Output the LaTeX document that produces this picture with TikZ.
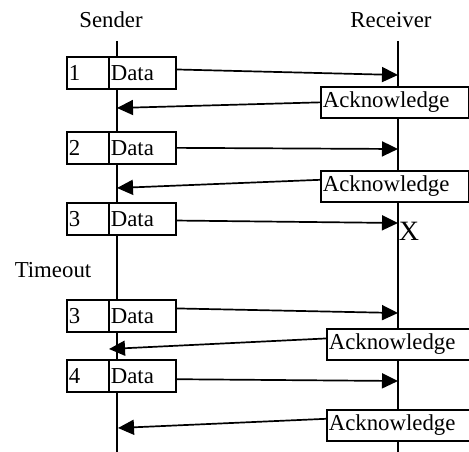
\documentclass[tikz,border=0pt]{standalone}
\usepackage{fontspec}
\setmainfont{Liberation Serif}
\usetikzlibrary{arrows.meta,calc}
\begin{document}
\begin{tikzpicture}[x=1pt, y=-1pt, line width=1.7pt,
  font=\fontsize{22.8}{27}\selectfont,
  cell/.style={draw, fill=white, anchor=north west, minimum height=32pt,
    inner sep=0pt, inner xsep=2pt, align=left},
  numcell/.style={cell, text width=38pt},
  datacell/.style={cell, text width=63pt},
  ackbox/.style={draw, fill=white, anchor=north west, minimum height=31pt,
    inner sep=0pt, inner xsep=2pt, text width=144pt, align=left},
  label/.style={inner sep=0pt},
  msg/.style={-{Triangle[length=16pt,width=15pt]}, line width=1.7pt}
]
\clip (0,0) rectangle (469,452);

% column headings
\node[label] (sender)   at (111,20) {Sender};
\node[label] (receiver) at (391,20) {Receiver};

% lifelines
\coordinate (stop) at (117,41);  \coordinate (sbot) at (117,456);
\coordinate (rtop) at (398,41);  \coordinate (rbot) at (398,456);
\draw (stop) -- (sbot);
\draw (rtop) -- (rbot);

% frames sent
\node[numcell]  (n1) at (66,56)  {1};
\node[datacell] (d1) at (108,56) {Data};
\node[numcell]  (n2) at (66,131) {2};
\node[datacell] (d2) at (108,131) {Data};
\node[numcell]  (n3) at (66,202) {3};
\node[datacell] (d3) at (108,202) {Data};
\node[numcell]  (n4) at (66,299) {3};
\node[datacell] (d4) at (108,299) {Data};
\node[numcell]  (n5) at (66,359) {4};
\node[datacell] (d5) at (108,359) {Data};

% acknowledgements
\node[ackbox] (a1) at (320,86)  {Acknowledge};
\node[ackbox] (a2) at (320,170) {Acknowledge};
\node[ackbox] (a3) at (326,328) {Acknowledge};
\node[ackbox] (a4) at (326,409) {Acknowledge};

% arrival points on the lifelines
\coordinate (r1) at (398,75);
\coordinate (r2) at (398,149);
\coordinate (r3) at (398,223);
\coordinate (r4) at (398,313);
\coordinate (r5) at (398,381);
\coordinate (s1) at (117,108);
\coordinate (s2) at (117,188);
\coordinate (s3) at (109,349);
\coordinate (s4) at (118,428);

% data messages
\draw[msg] ($(d1.north east)!0.4!(d1.south east)$) -- (r1);
\draw[msg] (d2.east) -- (r2);
\draw[msg] ($(d3.north east)!0.55!(d3.south east)$) -- (r3);
\draw[msg] ($(d4.north east)!0.28!(d4.south east)$) -- (r4);
\draw[msg] ($(d5.north east)!0.6!(d5.south east)$) -- (r5);

% acknowledgement messages
\draw[msg] (a1.west) -- (s1);
\draw[msg] ($(a2.north west)!0.3!(a2.south west)$) -- (s2);
\draw[msg] ($(a3.north west)!0.32!(a3.south west)$) -- (s3);
\draw[msg] ($(a4.north west)!0.3!(a4.south west)$) -- (s4);

% lost frame and timeout
\node[label, font=\fontsize{28}{32}\selectfont] (lost) at (409,231) {X};
\node[label] (timeout) at (53,270) {Timeout};
\end{tikzpicture}
\end{document}
